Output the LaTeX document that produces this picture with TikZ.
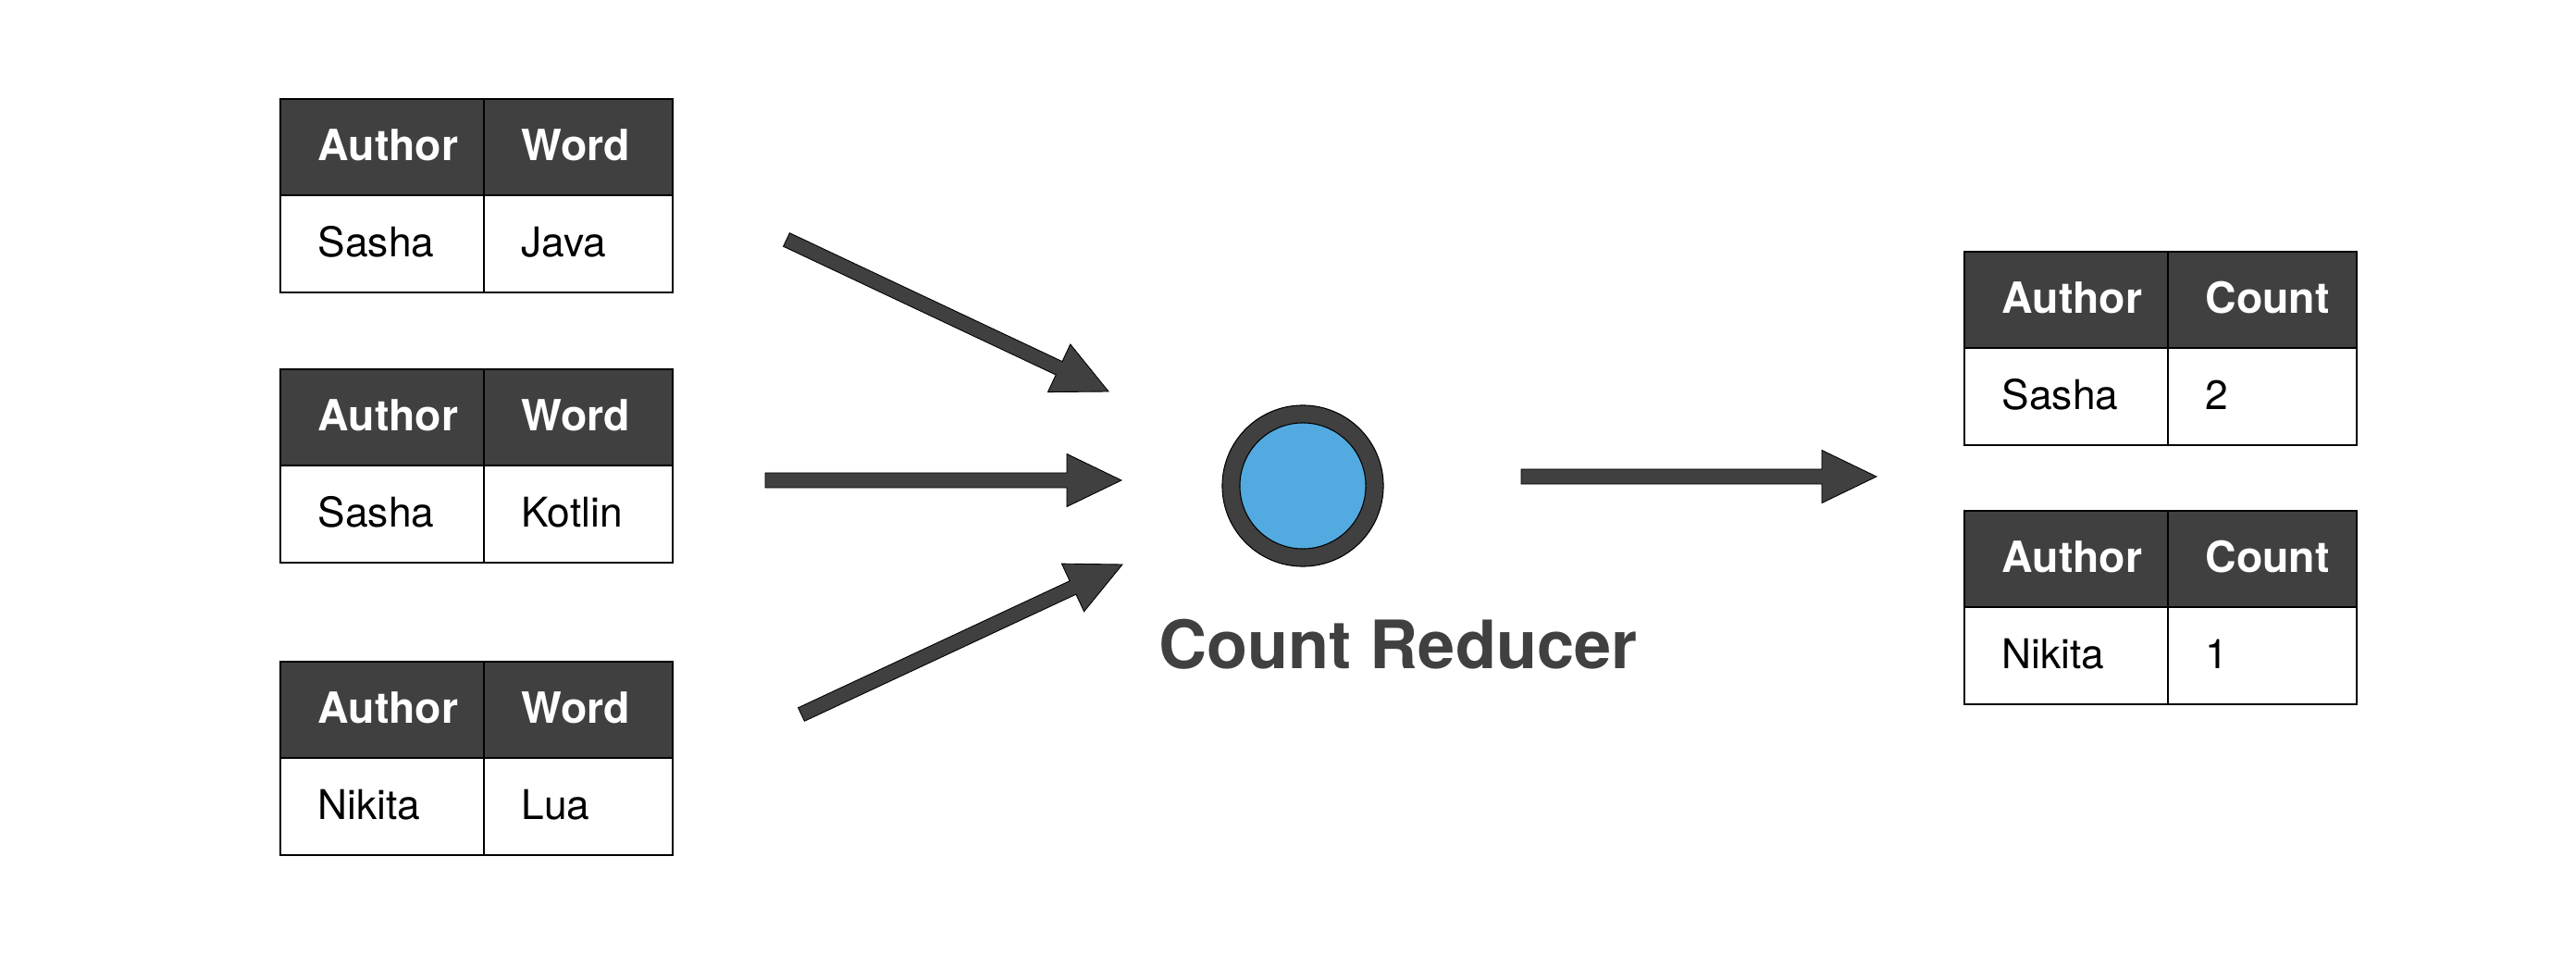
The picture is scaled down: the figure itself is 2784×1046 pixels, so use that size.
\documentclass[tikz,border=0pt]{standalone}
\usepackage{fontspec}
\setmainfont{TeX Gyre Heros}
\usepackage{tikz}
\usetikzlibrary{calc, positioning}

\definecolor{ringgray}{RGB}{64,64,64}
\definecolor{reducerblue}{RGB}{83,170,224}

% Block arrow from tail #1 to tip #2
\def\shaftw{0.08cm}
\def\headw{0.285cm}
\def\headlen{0.59cm}
\newcommand{\blockarrow}[2]{%
	\coordinate (#1-base) at ($(#2)!\headlen!(#1)$);
	\draw[fatarrow] ($(#1)!\shaftw!90:(#2)$) -- ($(#1-base)!\shaftw!-90:(#1)$) -- ($(#1-base)!\headw!-90:(#1)$) -- (#2) -- ($(#1-base)!\headw!90:(#1)$) -- ($(#1-base)!\shaftw!90:(#1)$) -- ($(#1)!\shaftw!-90:(#2)$) -- cycle;
}

\tikzset{
	headcell/.style={draw=black, line width=0.4pt, fill=ringgray},
	valcell/.style={draw=black, line width=0.4pt, fill=white},
	celltext/.style={anchor=west, inner sep=0pt, text height=9pt, text depth=0pt, font=\fontsize{12.6}{15}\selectfont},
	headtext/.style={celltext, text=white, font=\fontsize{13.2}{15}\selectfont\bfseries},
	fatarrow/.style={draw=black, line width=0.25pt, fill=ringgray, line join=miter}
}

\begin{document}
\begin{tikzpicture}[x=0.01cm, y=-0.01cm]

	\useasboundingbox (0, 0) rectangle (2784, 1046);

	% Dimensions
	\def\cola{220}
	\def\colb{204}
	\def\rowh{104}
	\def\pad{40}

	% Tables
	\foreach \tname/\tx/\ty/\headb/\vala/\valb in {
		words1/303/107/Word/Sasha/Java,
		words2/303/399/Word/Sasha/Kotlin,
		words3/303/715/Word/Nikita/Lua,
		counts1/2123/272/Count/Sasha/2,
		counts2/2123/552/Count/Nikita/1}
	{
		% Header row
		\draw[headcell] (\tx, \ty) rectangle ++(\cola, \rowh);
		\draw[headcell] (\tx+\cola, \ty) rectangle ++(\colb, \rowh);
		% Value row
		\draw[valcell] (\tx, \ty+\rowh) rectangle ++(\cola, \rowh+1);
		\draw[valcell] (\tx+\cola, \ty+\rowh) rectangle ++(\colb, \rowh+1);
		% Cell texts
		\node[headtext] (\tname-ha) at (\tx+\pad, \ty+0.5*\rowh-1.5) {Author};
		\node[headtext] (\tname-hb) at (\tx+\cola+\pad, \ty+0.5*\rowh-1.5) {\headb};
		\node[celltext] (\tname-va) at (\tx+\pad, \ty+1.5*\rowh-1) {\vala};
		\node[celltext] (\tname-vb) at (\tx+\cola+\pad, \ty+1.5*\rowh-1) {\valb};
	}

	% Reducer
	\node[circle, draw=black, line width=0.3pt, fill=ringgray, minimum size=1.74cm, inner sep=0pt] (reducer) at (1408, 525) {};
	\node[circle, draw=black, line width=0.3pt, fill=reducerblue, minimum size=1.36cm, inner sep=0pt] (reducercore) at (reducer) {};
	\node[anchor=base, inner sep=0pt, text=ringgray, font=\fontsize{20.5}{24}\selectfont\bfseries] (reducerlabel) at (1511, 722) {Count Reducer};

	% Arrows
	\coordinate (in1-tail) at (850, 259);
	\coordinate (in1-tip) at (1198, 423);
	\coordinate (in2-tail) at (827, 519);
	\coordinate (in2-tip) at (1212, 519);
	\coordinate (in3-tail) at (866, 772);
	\coordinate (in3-tip) at (1213, 610);
	\coordinate (out-tail) at (1644, 515);
	\coordinate (out-tip) at (2028, 515);
	\blockarrow{in1-tail}{in1-tip}
	\blockarrow{in2-tail}{in2-tip}
	\blockarrow{in3-tail}{in3-tip}
	\blockarrow{out-tail}{out-tip}

\end{tikzpicture}
\end{document}
